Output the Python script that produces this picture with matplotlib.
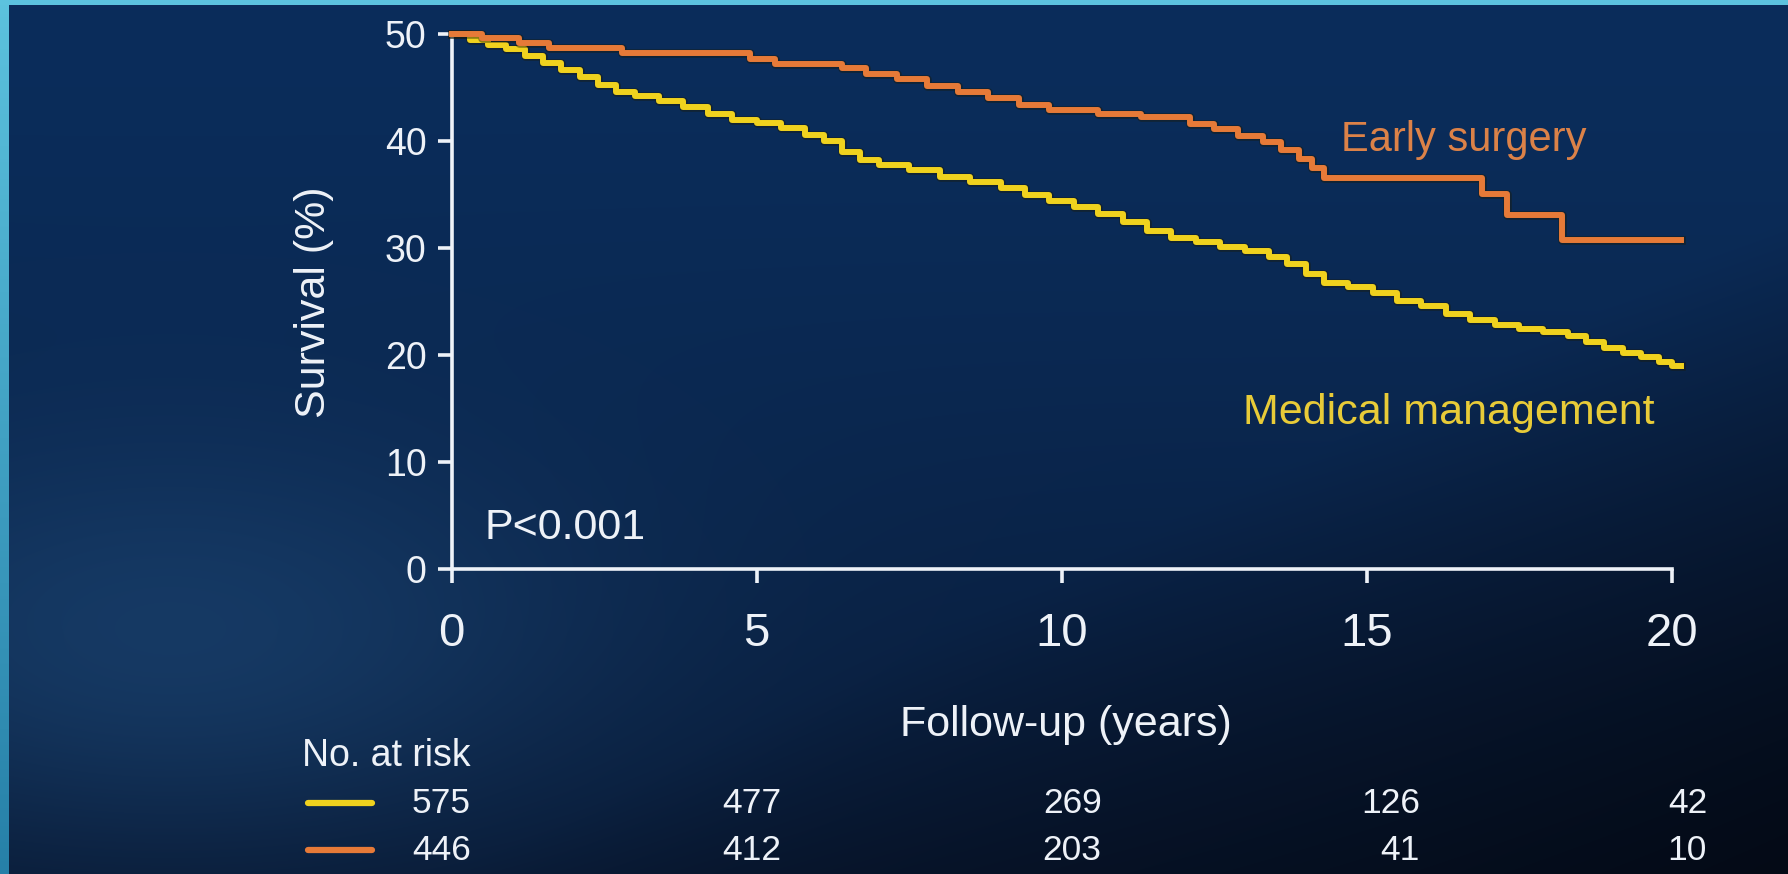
import numpy as np
import matplotlib
matplotlib.use('Agg')
import matplotlib.pyplot as plt
from matplotlib.lines import Line2D
import matplotlib.patheffects as pe

plt.rcParams['font.family'] = ['Liberation Sans', 'DejaVu Sans']

# Kaplan-Meier curves (years, survival %)
surgery_t = [0, 0.5, 1.1, 1.6, 2.8, 4.9, 5.3, 6.4, 6.8, 7.3, 7.8, 8.3, 8.8, 9.3, 9.8,
             10.6, 11.3, 12.1, 12.5, 12.9, 13.3, 13.6, 13.9, 14.1, 14.3, 16.9, 17.3,
             18.2, 20.15]
surgery_s = [50, 49.6, 49.2, 48.7, 48.2, 47.7, 47.2, 46.8, 46.3, 45.8, 45.2, 44.6, 44.0,
             43.4, 42.9, 42.5, 42.3, 41.6, 41.1, 40.5, 39.9, 39.2, 38.3, 37.5, 36.6, 35.1,
             33.1, 30.8, 30.8]

medical_t = [0, 0.3, 0.6, 0.9, 1.2, 1.5, 1.8, 2.1, 2.4, 2.7, 3.0, 3.4, 3.8, 4.2, 4.6,
             5.0, 5.4, 5.8, 6.1, 6.4, 6.7, 7.0, 7.5, 8.0, 8.5, 9.0, 9.4, 9.8, 10.2, 10.6,
             11.0, 11.4, 11.8, 12.2, 12.6, 13.0, 13.4, 13.7, 14.0, 14.3, 14.7, 15.1, 15.5,
             15.9, 16.3, 16.7, 17.1, 17.5, 17.9, 18.3, 18.6, 18.9, 19.2, 19.5, 19.8, 20.0,
             20.15]
medical_s = [50, 49.5, 49.0, 48.6, 48.0, 47.3, 46.7, 46.0, 45.3, 44.6, 44.2, 43.8, 43.2,
             42.5, 42.0, 41.7, 41.2, 40.6, 40.0, 39.0, 38.2, 37.8, 37.3, 36.7, 36.2, 35.6,
             35.0, 34.4, 33.9, 33.2, 32.5, 31.6, 31.0, 30.6, 30.1, 29.7, 29.2, 28.5, 27.6,
             26.8, 26.4, 25.8, 25.1, 24.6, 23.9, 23.3, 22.8, 22.5, 22.2, 21.8, 21.2, 20.7,
             20.2, 19.8, 19.4, 19.0, 19.0]

x_ticks = [0, 5, 10, 15, 20]
y_ticks = [0, 10, 20, 30, 40, 50]

risk_medical = ['575', '477', '269', '126', '42']
risk_surgery = ['446', '412', '203', '41', '10']

YELLOW = '#F0D21E'
ORANGE = '#E67A38'
WHITE = '#EEF2F8'

W, H = 1788, 874
fig = plt.figure(figsize=(W / 100, H / 100), dpi=100)

# background: dark navy slide with a cyan frame on top / left
yy, xx = np.mgrid[0:H, 0:W].astype(float)
top = np.array([11, 45, 91]) / 255
bot = np.array([8, 24, 50]) / 255
f = (yy / H) ** 1.6
bg = top[None, None, :] * (1 - f[..., None]) + bot[None, None, :] * f[..., None]
light = np.array([30, 74, 122]) / 255
w = 0.6 * np.exp(-((xx - 170) ** 2 / (2 * 320 ** 2) + (yy - 640) ** 2 / (2 * 150 ** 2)))
bg = bg * (1 - w[..., None]) + light[None, None, :] * w[..., None]
dark = np.array([4, 10, 22]) / 255
w2 = np.clip((xx / W + yy / H - 1.25) / 0.75, 0, 1)
bg = bg * (1 - w2[..., None]) + dark[None, None, :] * w2[..., None]
c_top = np.array([92, 194, 222]) / 255
c_bot = np.array([38, 128, 168]) / 255
g = (yy[:, :9] / H)[..., None]
bg[:, :9] = c_top * (1 - g) + c_bot * g
bg[:5, :] = c_top
bgax = fig.add_axes([0, 0, 1, 1], zorder=-1)
bgax.imshow(bg, aspect='auto', extent=[0, 1, 0, 1], origin='upper')
bgax.axis('off')

ax = fig.add_axes([0.2423, 0.3486, 0.7028, 0.6245])
ax.set_facecolor('none')
ax.set_xlim(-0.3, 20.3)
ax.set_ylim(0, 51)

shadow = [pe.Stroke(linewidth=6.2, foreground='#1a1a08', alpha=0.45), pe.Normal()]
ax.plot(medical_t, medical_s, drawstyle='steps-post', color=YELLOW, lw=4.3,
        path_effects=shadow, zorder=4, solid_capstyle='projecting')
ax.plot(surgery_t, surgery_s, drawstyle='steps-post', color=ORANGE, lw=4.3,
        path_effects=shadow, zorder=5, solid_capstyle='projecting')

for s in ['top', 'right']:
    ax.spines[s].set_visible(False)
for s in ['left', 'bottom']:
    ax.spines[s].set_color(WHITE)
    ax.spines[s].set_linewidth(2.6)
ax.spines['left'].set_position(('data', 0))
ax.spines['left'].set_bounds(0, 50)
ax.spines['bottom'].set_bounds(0, 20)

ax.set_xticks(x_ticks)
ax.set_yticks(y_ticks)
ax.tick_params(axis='both', colors=WHITE, width=2.6, length=10)
ax.tick_params(axis='y', labelsize=27, pad=8)
ax.tick_params(axis='x', labelsize=34, pad=21)

ax.text(0.54, 3.9, 'P<0.001', color=WHITE, fontsize=31, va='center', ha='left')
ax.text(16.6, 40.1, 'Early surgery', color='#DC8248', fontsize=30, va='center', ha='center')
ax.text(16.35, 14.6, 'Medical management', color='#E8CB38', fontsize=31, va='center', ha='center')

fig.text(0.1754, 0.654, 'Survival (%)', rotation=90, color=WHITE, fontsize=31,
         ha='center', va='center')
fig.text(0.5963, 0.171, 'Follow-up (years)', color=WHITE, fontsize=31,
         ha='center', va='center')

# number at risk table
fig.text(0.169, 0.1345, 'No. at risk', color=WHITE, fontsize=27, ha='left', va='center')
col_x = [0.2634, 0.4369, 0.6161, 0.794, 0.9547]
row_y = [0.081, 0.0274]
for row, col, yv in [(risk_medical, YELLOW, row_y[0]), (risk_surgery, ORANGE, row_y[1])]:
    fig.add_artist(Line2D([0.172, 0.208], [yv, yv], color=col, lw=4.5,
                          solid_capstyle='round', transform=fig.transFigure))
    for xv, v in zip(col_x, row):
        fig.text(xv, yv, v, color=WHITE, fontsize=25.5, ha='right', va='center')

fig.savefig('out.png', dpi=100)
